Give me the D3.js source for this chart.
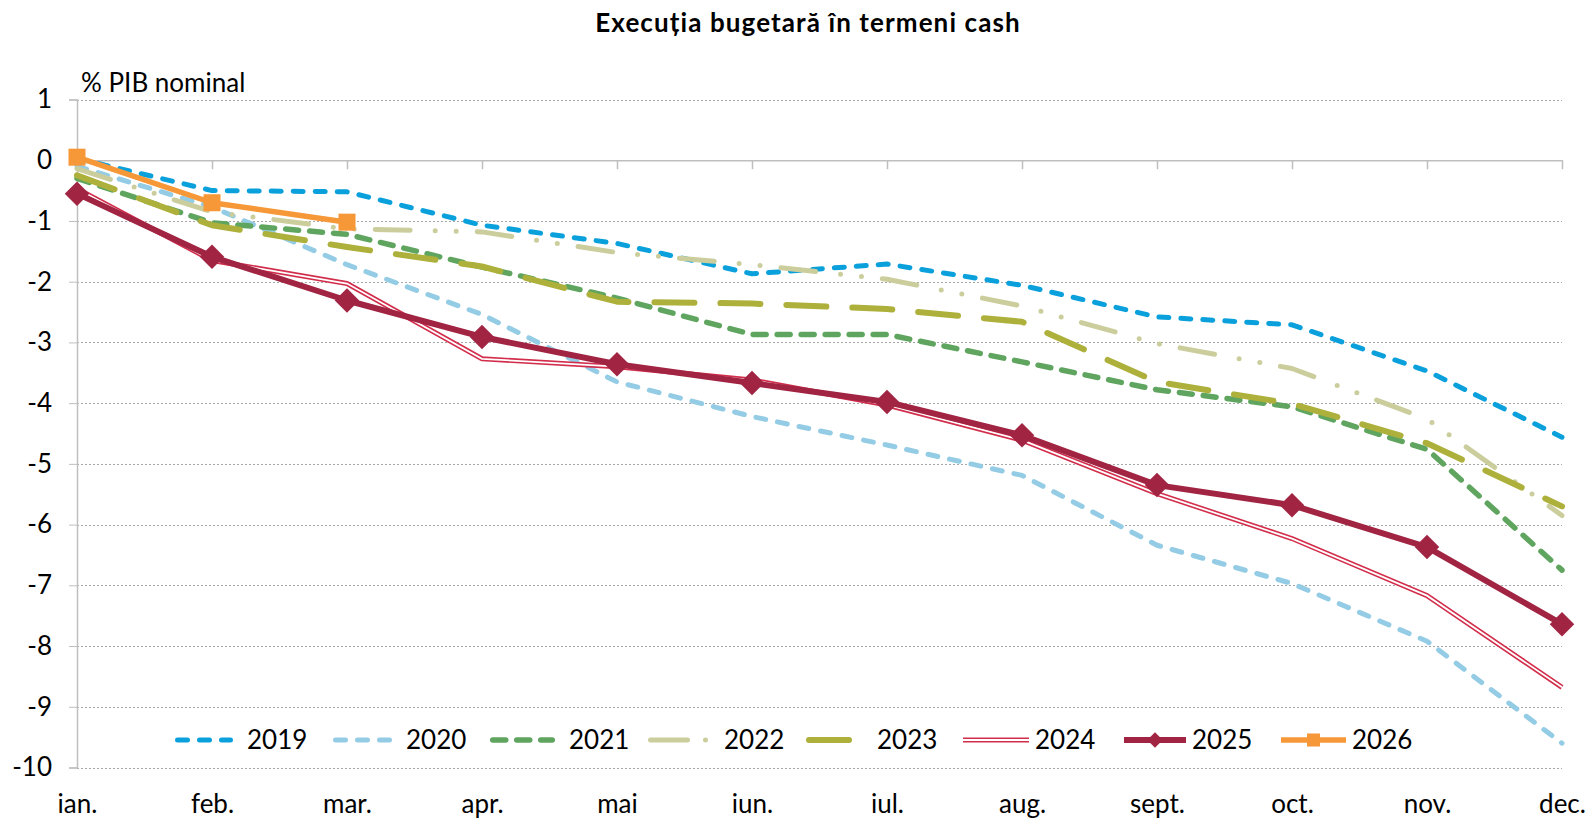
<!DOCTYPE html>
<html>
<head>
<meta charset="utf-8">
<script src="https://cdn.jsdelivr.net/npm/d3@7"></script>
<style>
  body { margin: 0; background: #fff; }
  svg { display: block; font-family: Lato, "Liberation Sans", sans-serif; }
</style>
</head>
<body>
<svg id="chart"></svg>
<script>
// luni si ani
var months = ["ian.", "feb.", "mar.", "apr.", "mai", "iun.", "iul.", "aug.", "sept.", "oct.", "nov.", "dec."];
var years = ["2019", "2020", "2021", "2022", "2023", "2024", "2025", "2026"];
var yTicks = [1, 0, -1, -2, -3, -4, -5, -6, -7, -8, -9, -10];

// sold cumulat, % PIB nominal
var s2019 = [0.03, -0.5, -0.52, -1.07, -1.37, -1.87, -1.71, -2.06, -2.58, -2.71, -3.47, -4.56];
var s2020 = [-0.1, -0.77, -1.72, -2.54, -3.65, -4.22, -4.69, -5.19, -6.34, -6.97, -7.92, -9.6];
var s2021 = [-0.3, -1.03, -1.22, -1.76, -2.27, -2.87, -2.87, -3.32, -3.78, -4.06, -4.76, -6.75];
var s2022 = [-0.14, -0.85, -1.13, -1.18, -1.52, -1.72, -1.96, -2.4, -3.02, -3.43, -4.26, -5.85];
var s2023 = [-0.25, -1.07, -1.43, -1.75, -2.33, -2.36, -2.45, -2.66, -3.65, -4.01, -4.66, -5.7];
var s2024 = [-0.47, -1.65, -2.03, -3.27, -3.4, -3.62, -4.03, -4.61, -5.49, -6.23, -7.17, -8.68];
var s2025 = [-0.55, -1.59, -2.31, -2.91, -3.36, -3.67, -3.98, -4.53, -5.35, -5.68, -6.37, -7.64];
var s2026 = [0.05, -0.7, -1.02];

var screen = {width: 1590, height: 822};
var fontSize = "26px";

// stil pentru fiecare serie
var styles = {
  "2019": {color: "#0aa0dc", width: 5, dash: "10 12"},
  "2020": {color: "#93cce4", width: 5, dash: "10 12"},
  "2021": {color: "#5fa55f", width: 5.5, dash: "13 11"},
  "2022": {color: "#cbce9c", width: 5, dash: "35 25 0 21 0 21", legDash: "37 18 0 100"},
  "2023": {color: "#adb03a", width: 6, dash: "40 26"},
  "2024": {color: "#d22e4c", width: 5, dash: null, double: true},
  "2025": {color: "#a12443", width: 6, dash: null, marker: "diamond"},
  "2026": {color: "#f79838", width: 5.5, dash: null, marker: "square"}
};

var series = [s2019, s2020, s2021, s2022, s2023, s2024, s2025, s2026].map(function (vals, i) {
  return {year: years[i], values: vals};
});

var svg = d3.select("#chart")
  .attr("width", screen.width)
  .attr("height", screen.height);

var xScale = d3.scalePoint().domain(months).range([77, 1562]).padding(0);
var yScale = d3.scaleLinear().domain([-10, 1]).range([767.5, 99.5]);

// titlu
svg.append("text")
  .attr("x", 808).attr("y", 32)
  .attr("text-anchor", "middle")
  .style("font-weight", "bold")
  .style("font-size", "26px")
  .style("letter-spacing", "1.1px")
  .text("Execuția bugetară în termeni cash");

svg.append("text")
  .attr("x", 81).attr("y", 92)
  .style("font-size", fontSize)
  .text("% PIB nominal");

// grila
svg.append("g")
  .selectAll("line")
  .data(yTicks)
  .enter().append("line")
  .attr("x1", 77).attr("x2", 1562)
  .attr("y1", function (d) { return Math.round(yScale(d)) + 0.5; })
  .attr("y2", function (d) { return Math.round(yScale(d)) + 0.5; })
  .attr("stroke", "#a6a6a6")
  .attr("stroke-width", 1)
  .attr("stroke-dasharray", "2 2");

// axa Y
var yAxis = d3.axisLeft(yScale).tickValues(yTicks).tickSize(8).tickPadding(17).tickFormat(d3.format("d"));
var gy = svg.append("g")
  .attr("transform", "translate(77,0)")
  .call(yAxis);
gy.select(".domain").attr("stroke", "#bfbfbf").attr("stroke-width", 1.5);
gy.selectAll(".tick line").attr("stroke", "#bfbfbf");
gy.selectAll(".tick text")
  .style("font-size", fontSize)
  .style("font-family", "Lato, 'Liberation Sans', sans-serif")
  .attr("fill", "#000")
  .text(function (d) { return d < 0 ? "-" + Math.abs(d) : d; });

// axa X la zero
var xAxis = d3.axisBottom(xScale).tickSize(9).tickSizeOuter(0).tickFormat("");
var gx = svg.append("g")
  .attr("transform", "translate(0," + yScale(0) + ")")
  .call(xAxis);
gx.select(".domain").attr("stroke", "#bfbfbf").attr("stroke-width", 1.5);
gx.selectAll(".tick line").attr("stroke", "#bfbfbf").attr("stroke-width", 1.5);

// etichete luni jos
var xLabels = d3.axisBottom(xScale).tickSize(0).tickPadding(0);
var gl = svg.append("g")
  .attr("transform", "translate(0,795)")
  .call(xLabels);
gl.select(".domain").remove();
gl.selectAll(".tick text")
  .style("font-size", fontSize)
  .style("font-family", "Lato, 'Liberation Sans', sans-serif")
  .attr("fill", "#000");

var line = d3.line()
  .x(function (d, i) { return xScale(months[i]); })
  .y(function (d) { return yScale(d); });

var plot = svg.append("g");

series.forEach(function (s) {
  var st = styles[s.year];
  var p = plot.append("path")
    .datum(s.values)
    .attr("d", line)
    .attr("fill", "none")
    .attr("stroke", st.color)
    .attr("stroke-width", st.width)
    .attr("stroke-linejoin", "round")
    .attr("stroke-linecap", st.dash ? "round" : "butt");
  if (st.dash) p.attr("stroke-dasharray", st.dash);
  if (st.double) {
    plot.append("path")
      .datum(s.values)
      .attr("d", line)
      .attr("fill", "none")
      .attr("stroke", "#fff")
      .attr("stroke-width", 1.8);
  }
  if (st.marker) {
    var sym = d3.symbol().type(d3.symbolSquare).size(st.marker == "diamond" ? 300 : 290);
    plot.selectAll(null)
      .data(s.values)
      .enter().append("path")
      .attr("d", sym)
      .attr("transform", function (d, i) {
        return "translate(" + xScale(months[i]) + "," + yScale(d) + ")" + (st.marker == "diamond" ? " rotate(45)" : "");
      })
      .attr("fill", st.color);
  }
});

// legenda
var legX = [175, 333, 490, 648, 806, 963, 1124, 1281];
var legLen = [58, 59, 65, 62, 47, 66, 62, 65];
var legY = 740;
var leg = svg.append("g");
series.forEach(function (s, i) {
  var st = styles[s.year];
  var x0 = legX[i], x1 = legX[i] + legLen[i];
  var inset = st.dash ? st.width / 2 : 0;
  var l = leg.append("line")
    .attr("x1", x0 + inset).attr("x2", x1 - inset)
    .attr("y1", legY).attr("y2", legY)
    .attr("stroke", st.color)
    .attr("stroke-width", st.width)
    .attr("stroke-linecap", st.dash ? "round" : "butt");
  if (st.dash) l.attr("stroke-dasharray", st.legDash || st.dash);
  if (st.double) {
    leg.append("line")
      .attr("x1", x0).attr("x2", x1)
      .attr("y1", legY).attr("y2", legY)
      .attr("stroke", "#fff").attr("stroke-width", 1.8);
  }
  if (st.marker) {
    var sym = d3.symbol().type(d3.symbolSquare).size(st.marker == "diamond" ? 120 : 170);
    leg.append("path")
      .attr("d", sym)
      .attr("transform", "translate(" + (x0 + x1) / 2 + "," + legY + ")" + (st.marker == "diamond" ? " rotate(45)" : ""))
      .attr("fill", st.color);
  }
  leg.append("text")
    .attr("x", x1 + 14 - (i >= 5 ? 8 : 0) + (i == 4 ? 10 : 0))
    .attr("y", legY)
    .attr("dy", "0.36em")
    .style("font-size", fontSize)
    .text(s.year);
});
</script>
</body>
</html>
